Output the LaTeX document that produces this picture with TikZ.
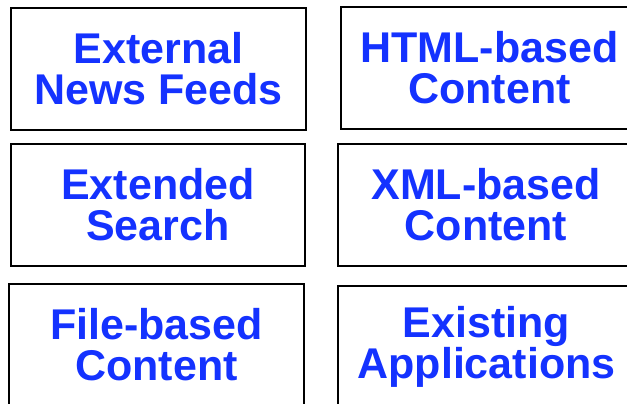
\documentclass[tikz,border=0pt]{standalone}
\usepackage{fontspec}
\setmainfont{Liberation Sans}
\definecolor{txtblue}{RGB}{20,50,255}
\begin{document}
\begin{tikzpicture}[x=1pt,y=1pt,
  cell/.style={draw=black, line width=2.4pt, fill=white, rectangle, inner sep=0pt,
    minimum width=295pt, minimum height=122pt,
    text=txtblue, align=center, font=\fontsize{43}{41}\selectfont\bfseries}]
\useasboundingbox (0,0) rectangle (627,404);
\clip (0,0) rectangle (627,404);
\node[cell] (news) at (158.5,335) {External\\News Feeds};
\node[cell, minimum width=297pt] (html) at (489.5,336) {HTML-based\\Content};
\node[cell, minimum width=294pt] (search) at (158,199) {Extended\\Search};
\node[cell, minimum width=296pt] (xml) at (486,199) {XML-based\\Content};
\node[cell] (file) at (156.5,59) {File-based\\Content};
\node[cell, minimum width=297pt] (apps) at (486.5,57) {Existing\\Applications};
\end{tikzpicture}
\end{document}
